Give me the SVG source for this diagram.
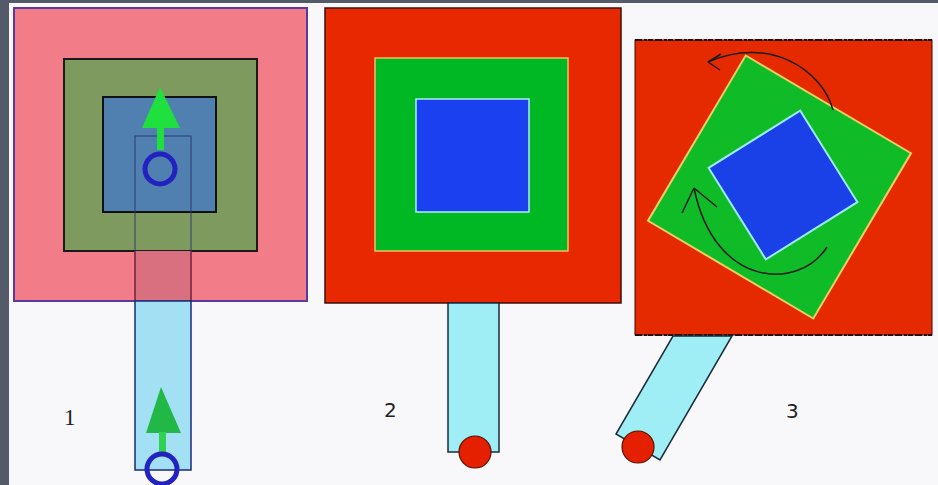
<svg xmlns="http://www.w3.org/2000/svg" width="938" height="485" viewBox="0 0 938 485">
<defs>
<style>
.lbl{font-family:"DejaVu Sans","Liberation Sans",sans-serif;font-size:20px;fill:#222}
.arc{fill:none;stroke:#1a1a1a;stroke-width:1.5}
.stick{fill:#a0eef5;stroke:#1a2a3a;stroke-width:1.5}
.ball{fill:#e42000;stroke:#5a1000;stroke-width:1.2}
.ring{fill:none;stroke:#2222c0;stroke-width:5}
.jag{stroke:#2a0a05;stroke-width:2;stroke-dasharray:7 2 3 1 5 2}
</style>
</defs>
<rect width="938" height="485" fill="#f8f8fa"/>
<rect x="0" y="0" width="938" height="3" fill="#555a68"/>
<rect x="0" y="0" width="9" height="485" fill="#555a68"/>

<g id="panel1">
<rect x="14" y="8" width="293" height="293" fill="#f27c88" stroke="#5a3aa0" stroke-width="2"/>
<rect x="64" y="59" width="193" height="192" fill="#7e9a5e" stroke="#1a1a1a" stroke-width="2"/>
<rect x="103" y="97" width="113" height="115" fill="#4f80b0" stroke="#111" stroke-width="2"/>
<rect x="135" y="251" width="56" height="50" fill="#d87080"/>
<rect x="135" y="136" width="56" height="165" fill="none" stroke="#2a3a6a" stroke-width="1"/>
<line x1="135" y1="251" x2="135" y2="301" stroke="#902030" stroke-width="1.2"/>
<line x1="191" y1="251" x2="191" y2="301" stroke="#902030" stroke-width="1.2"/>
<rect x="135" y="301" width="56" height="169" fill="#a4e0f4" stroke="#1a2a7a" stroke-width="1.5"/>
<polygon points="160,87 142,128 180,128" fill="#20e040"/>
<rect x="157" y="127" width="7" height="23" fill="#20e040"/>
<circle cx="160" cy="169" r="15" class="ring"/>
<polygon points="161,387 146,433 181,433" fill="#22b848"/>
<rect x="159" y="432" width="7" height="22" fill="#30d050"/>
<circle cx="162" cy="469" r="15" class="ring"/>
<text x="64" y="425" class="lbl" style="font-family:'Liberation Serif',serif;font-size:23px">1</text>
</g>

<g id="panel2">
<rect x="325" y="8" width="296" height="295" fill="#e82800" stroke="#3a1008" stroke-width="1.5"/>
<rect x="375" y="58" width="193" height="193" fill="#00b824" stroke="#f0c060" stroke-width="1.5"/>
<rect x="416" y="99" width="113" height="113" fill="#1a40f0" stroke="#a8f0f0" stroke-width="1.5"/>
<rect x="448" y="303" width="51" height="149" class="stick"/>
<circle cx="475" cy="452" r="16" class="ball"/>
<text x="384" y="417" class="lbl">2</text>
</g>

<g id="panel3">
<rect x="635" y="40" width="297" height="295" fill="#e62a00" stroke="#3a0a05" stroke-width="1"/>
<line x1="635" y1="40" x2="932" y2="40" class="jag"/>
<line x1="635" y1="335" x2="932" y2="335" class="jag"/>
<rect x="683.5" y="91" width="192" height="192" fill="#10bb28" stroke="#e8d060" stroke-width="2" transform="rotate(30.6 779.5 187)"/>
<rect x="729" y="131" width="108" height="108" fill="#1a40e8" stroke="#9ee8f0" stroke-width="2" transform="rotate(58 783 185)"/>
<polygon points="673,336 732,336 660,460 616,434" class="stick"/>
<circle cx="638" cy="447" r="16" class="ball"/>
<text x="786" y="418" class="lbl">3</text>
</g>

<g id="connectors">
<path class="arc" d="M 833 110 C 822 70 770 35 708 62"/>
<path class="arc" d="M 708 62 L 721 54 M 708 62 L 720 70"/>
<path class="arc" d="M 827 247 C 800 290 715 290 694 188"/>
<path class="arc" d="M 694 188 L 682 213 M 694 188 L 717 207"/>
</g>
</svg>
